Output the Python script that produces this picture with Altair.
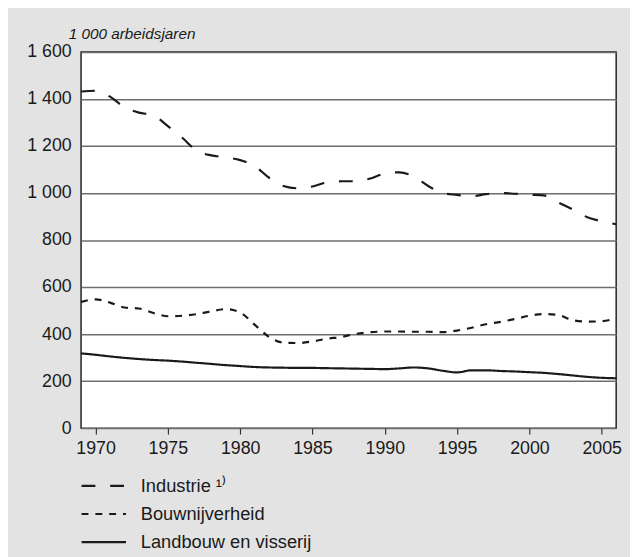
import altair as alt
import pandas as pd

years = list(range(1969, 2007))

industrie = [1432, 1435, 1410, 1365, 1342, 1330, 1285, 1235, 1180, 1160,
             1152, 1140, 1115, 1065, 1030, 1020, 1028, 1045, 1050, 1050,
             1062, 1083, 1088, 1070, 1030, 1000, 992, 986, 995, 1000,
             997, 993, 990, 960, 930, 897, 880, 867]

bouwnijverheid = [537, 548, 534, 513, 509, 490, 476, 478, 485, 497,
                  506, 492, 440, 388, 364, 362, 369, 380, 388, 401,
                  408, 411, 411, 410, 410, 408, 415, 427, 442, 452,
                  464, 478, 485, 481, 459, 453, 455, 467]

landbouw = [318, 312, 305, 299, 294, 290, 287, 283, 278, 273,
            268, 264, 260, 258, 257, 256, 256, 255, 254, 253,
            252, 251, 254, 258, 254, 244, 237, 246, 246, 243,
            241, 238, 235, 230, 224, 218, 214, 212]

series_names = ["Industrie \u00b9\u207e", "Bouwnijverheid", "Landbouw en visserij"]
dash_patterns = [[14, 15], [7, 7], [1, 0]]
x_ticks = [1970, 1975, 1980, 1985, 1990, 1995, 2000, 2005]
y_ticks = [0, 200, 400, 600, 800, 1000, 1200, 1400, 1600]

rows = []
for name, vals in zip(series_names, [industrie, bouwnijverheid, landbouw]):
    for yr, v in zip(years, vals):
        rows.append({"jaar": yr, "waarde": v, "reeks": name})
df = pd.DataFrame(rows)

FONT = "Liberation Sans"
INK = "#1a1a1a"

chart = alt.Chart(df).mark_line(
    interpolate="monotone", strokeWidth=2.2, color=INK
).encode(
    x=alt.X("jaar:Q",
            scale=alt.Scale(domain=[1969, 2006], nice=False, zero=False),
            axis=alt.Axis(values=x_ticks, format="d", title=None, grid=False,
                          domain=False, ticks=True, tickSize=6, tickColor="#333",
                          tickWidth=1.2, labelFontSize=18, labelPadding=6,
                          labelColor=INK, labelFont=FONT)),
    y=alt.Y("waarde:Q",
            scale=alt.Scale(domain=[0, 1600], nice=False),
            axis=alt.Axis(values=y_ticks,
                          labelExpr="replace(format(datum.value, ','), ',', ' ')",
                          title="1 000 arbeidsjaren", titleAngle=0, titleAlign="left",
                          titleBaseline="alphabetic", titleX=-13, titleY=-14,
                          titleFontStyle="italic", titleFontWeight="normal",
                          titleFontSize=15.5, titleColor=INK, titleFont=FONT,
                          grid=True, gridColor="#6e6e6e", gridWidth=1.5,
                          domain=False, ticks=False, labelPadding=10,
                          labelFontSize=18, labelColor=INK, labelFont=FONT)),
    strokeDash=alt.StrokeDash(
        "reeks:N",
        scale=alt.Scale(domain=series_names, range=dash_patterns),
        legend=alt.Legend(title=None, orient="none", legendX=-1, legendY=429,
                          symbolType="M-2.5,0L2.5,0", symbolSize=324,
                          symbolOffset=13.5,
                          symbolStrokeWidth=2.2, symbolStrokeColor=INK,
                          labelFontSize=18.5, labelColor=INK, labelFont=FONT,
                          labelLimit=400, labelOffset=27, rowPadding=8.5,
                          padding=0, direction="vertical")),
).properties(
    width=542, height=381,
    padding={"left": 74, "top": 41, "right": 14, "bottom": 127},
    autosize=alt.AutoSizeParams(type="none"),
    background="#e3e3e3",
).configure_view(
    fill="white", stroke="#222", strokeWidth=1.5
)

chart.save("out.html", embed_options={"renderer": "svg", "actions": False})
